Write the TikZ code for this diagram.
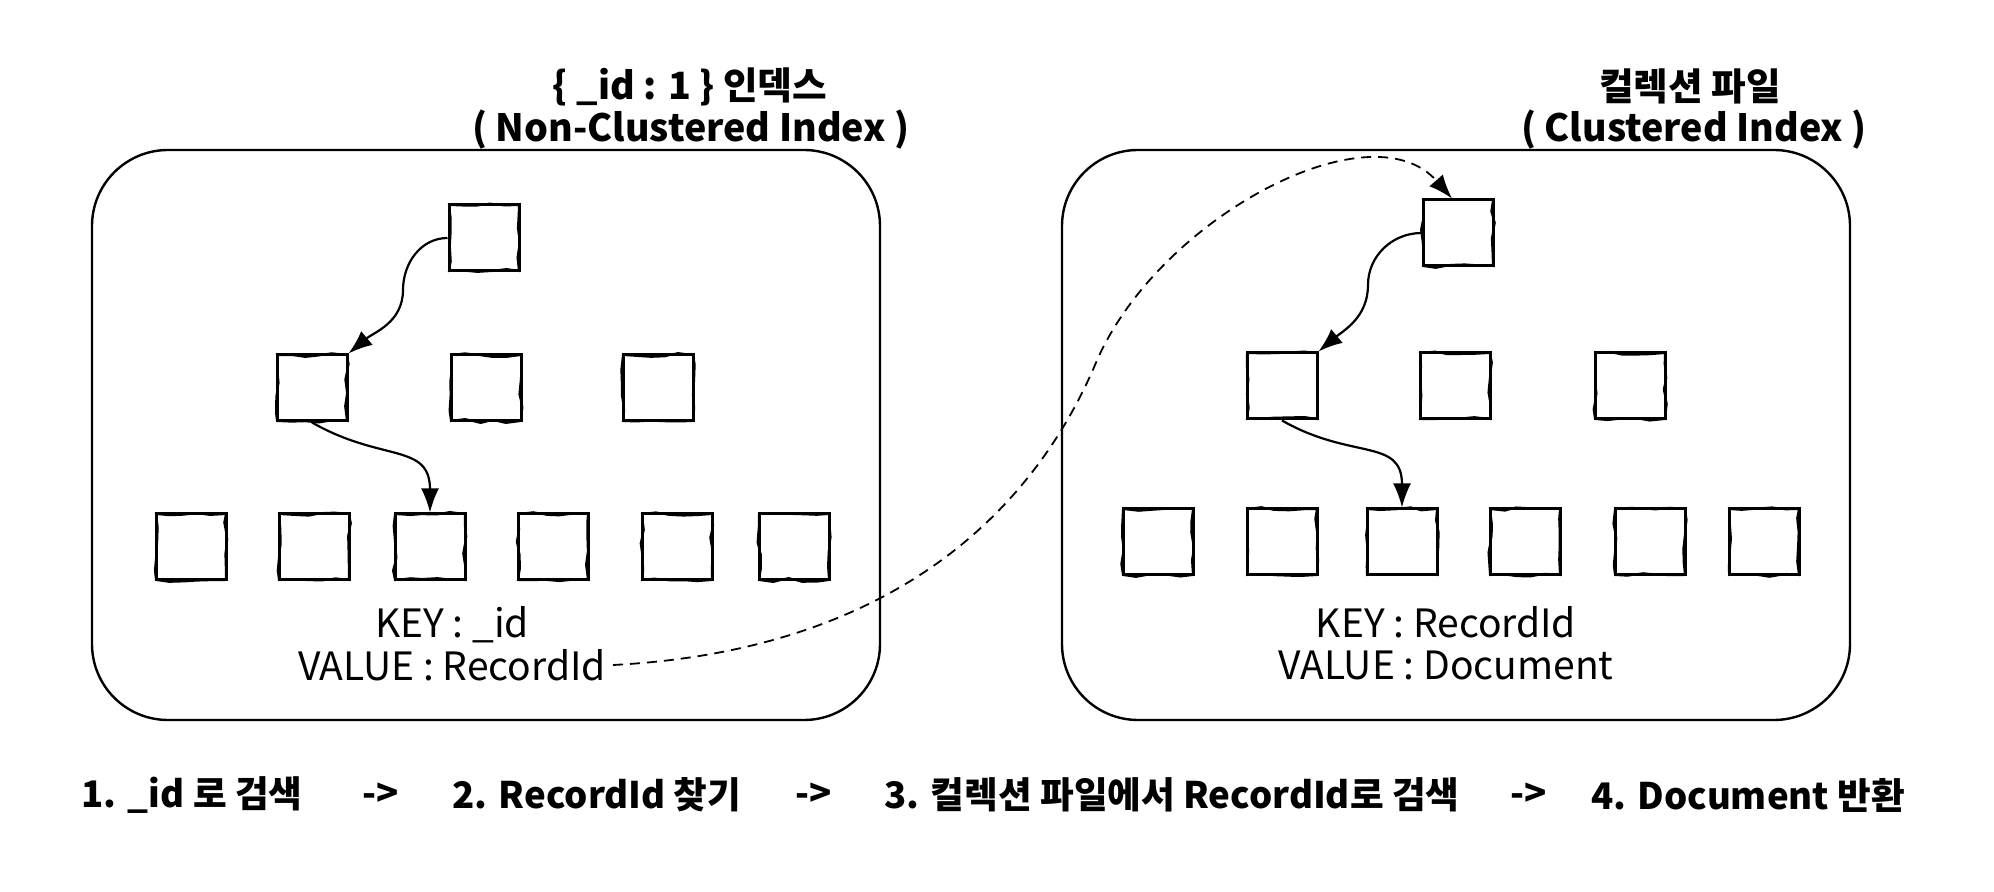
\documentclass[tikz,border=0pt]{standalone}
\usepackage{fontspec}
\setmainfont{Noto Sans CJK KR}
\usetikzlibrary{arrows.meta,decorations.pathmorphing,calc}
\begin{document}
\pgfmathsetseed{7}
\begin{tikzpicture}[x=0.5pt,y=-0.5pt,
  container/.style={draw, line width=1.2pt, rounded corners=38pt, minimum width=394pt, minimum height=285pt},
  sk/.style={draw, line width=1.5pt, minimum width=35pt, minimum height=33pt, inner sep=0pt,
     postaction={draw, line width=1pt, decorate, decoration={random steps, segment length=7pt, amplitude=1pt}}},
  arr/.style={line width=1.1pt, -{Latex[length=12pt,width=9pt]}},
  darr/.style={line width=0.9pt, dash pattern=on 5pt off 3.5pt, -{Latex[length=12pt,width=9pt]}},
  ttl/.style={font=\bfseries\fontsize{18.8}{22}\selectfont},
  lbl/.style={font=\fontsize{19.5}{23}\selectfont},
  stepl/.style={font=\bfseries\fontsize{18.3}{22}\selectfont}]
\useasboundingbox (0,0) rectangle (1994,892);
% titles
\node[ttl] (tl1) at (690,87) {\{ \_id : 1 \} 인덱스};
\node[ttl] (tl2) at (691,130) {( Non-Clustered Index )};
\node[ttl] (tr1) at (1690,86) {컬렉션 파일};
\node[ttl] (tr2) at (1694,130) {( Clustered Index )};
% containers
\node[container] (LB) at (486,435) {};
\node[container] (RB) at (1456,435) {};
% left tree
\node[sk] (L0) at (484,238) {};
\node[sk] (L1a) at (312,388) {};
\node[sk] (L1b) at (486,388) {};
\node[sk] (L1c) at (658,388) {};
\node[sk] (L2a) at (191,547) {};
\node[sk] (L2b) at (314,547) {};
\node[sk] (L2c) at (430,547) {};
\node[sk] (L2d) at (553,547) {};
\node[sk] (L2e) at (677,547) {};
\node[sk] (L2f) at (794,547) {};
% right tree
\node[sk] (R0) at (1458,233) {};
\node[sk] (R1a) at (1282,386) {};
\node[sk] (R1b) at (1455,386) {};
\node[sk] (R1c) at (1630,386) {};
\node[sk] (R2a) at (1158,542) {};
\node[sk] (R2b) at (1282,542) {};
\node[sk] (R2c) at (1402,542) {};
\node[sk] (R2d) at (1525,542) {};
\node[sk] (R2e) at (1650,542) {};
\node[sk] (R2f) at (1764,542) {};
% labels
\node[lbl] (lk) at (452,625) {KEY : \_id};
\node[lbl] (lv) at (452,665) {VALUE : RecordId};
\node[lbl] (rk) at (1446,622) {KEY : RecordId};
\node[lbl] (rv) at (1446,665) {VALUE : Document};
% arrows left
\coordinate (ka) at (403,290);
\draw[arr] (L0.west) to[out=180,in=90] (ka) to[out=-90,in=40] (L1a.north east);
\draw[arr] (L1a.south) .. controls +(70,40) and +(0,-70) .. (L2c.north);
% arrows right
\coordinate (kb) at (1368,285);
\draw[arr] (R0.west) to[out=180,in=90] (kb) to[out=-90,in=40] (R1a.north east);
\draw[arr] (R1a.south) .. controls +(70,40) and +(0,-70) .. (R2c.north);
% dashed
\coordinate (km) at (1095,365);
\draw[darr] (lv.east) .. controls (900,650) and (1035,505) .. (km) .. controls (1155,220) and (1370,105) .. ([xshift=-3pt]R0.north);
% bottom steps
\node[stepl] (s1) at (192,795) {1. \_id 로 검색};
\node[stepl] (a1) at (381,795) {->};
\node[stepl] (s2) at (597,795) {2. RecordId 찾기};
\node[stepl] (a2) at (814,795) {->};
\node[stepl] (s3) at (1172,795) {3. 컬렉션 파일에서 RecordId로 검색};
\node[stepl] (a3) at (1529,795) {->};
\node[stepl] (s4) at (1748,795) {4. Document 반환};
\end{tikzpicture}
\end{document}
